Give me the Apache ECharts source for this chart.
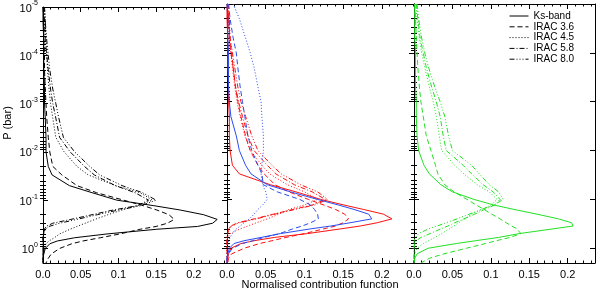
<!DOCTYPE html>
<html><head><meta charset="utf-8">
<script src="https://cdn.jsdelivr.net/npm/echarts@6/dist/echarts.min.js"></script>
<style>html,body{margin:0;padding:0;background:#fff}#c{width:600px;height:291px}</style>
</head><body><div id="c"></div>
<script>
// Pressure levels (bar)
const pressure = [1e-5,2e-5,5e-5,1e-4,2e-4,5e-4,1e-3,2e-3,5e-3,1e-2,2e-2,3e-2,5e-2,7e-2,0.1,0.13,0.16,0.2,0.25,0.3,0.35,0.4,0.5,0.6,0.7,0.8,1.0,1.3,1.6,2.0];
const bandNames = ['Ks-band','IRAC 3.6','IRAC 4.5','IRAC 5.8','IRAC 8.0'];
const xTicks = [0, 0.05, 0.1, 0.15, 0.2];
const yTickExponents = [-5,-4,-3,-2,-1,0];
const minorMultipliers = [2,3,4,5,6,7,8,9];

// Panel 1 (black)
const blackKs = [0.000,0.000,0.001,0.001,0.001,0.002,0.002,0.003,0.004,0.004,0.007,0.012,0.035,0.065,0.098,0.147,0.182,0.213,0.231,0.225,0.205,0.151,0.085,0.042,0.019,0.009,0.003,0.001,0.000,0.000];
const black36 = [0.000,0.001,0.001,0.002,0.002,0.003,0.004,0.005,0.007,0.009,0.013,0.025,0.045,0.071,0.107,0.133,0.151,0.167,0.174,0.165,0.150,0.129,0.102,0.076,0.053,0.038,0.022,0.011,0.007,0.004];
const black45 = [0.002,0.003,0.004,0.005,0.006,0.008,0.010,0.013,0.017,0.028,0.045,0.060,0.096,0.129,0.145,0.125,0.105,0.086,0.069,0.056,0.045,0.036,0.022,0.015,0.008,0.004,0.002,0.001,0.000,0.000];
const black58 = [0.001,0.002,0.003,0.005,0.007,0.010,0.013,0.017,0.022,0.036,0.055,0.068,0.096,0.122,0.140,0.125,0.093,0.065,0.037,0.013,0.004,0.002,0.001,0.000,0.000,0.000,0.000,0.000,0.000,0.000];
const black80 = [0.002,0.003,0.005,0.007,0.009,0.013,0.017,0.021,0.027,0.042,0.062,0.075,0.105,0.132,0.150,0.130,0.100,0.072,0.045,0.022,0.008,0.003,0.001,0.000,0.000,0.000,0.000,0.000,0.000,0.000];

// Panel 2 (red and blue)
const redKs = [0.000,0.000,0.001,0.001,0.001,0.002,0.002,0.003,0.003,0.004,0.007,0.016,0.056,0.089,0.121,0.151,0.176,0.202,0.213,0.194,0.172,0.147,0.104,0.061,0.035,0.018,0.005,0.002,0.001,0.000];
const red36 = [0.001,0.002,0.004,0.006,0.008,0.011,0.014,0.018,0.024,0.030,0.040,0.048,0.062,0.080,0.105,0.125,0.140,0.152,0.157,0.150,0.140,0.125,0.100,0.076,0.058,0.042,0.022,0.006,0.002,0.001];
const red45 = [0.001,0.002,0.003,0.005,0.007,0.010,0.013,0.017,0.023,0.030,0.045,0.055,0.078,0.100,0.117,0.100,0.080,0.067,0.052,0.038,0.027,0.017,0.004,0.001,0.000,0.000,0.000,0.000,0.000,0.000];
const red58 = [0.001,0.002,0.003,0.005,0.008,0.011,0.015,0.020,0.027,0.035,0.052,0.063,0.087,0.110,0.127,0.110,0.085,0.060,0.035,0.014,0.005,0.002,0.001,0.000,0.000,0.000,0.000,0.000,0.000,0.000];
const red80 = [0.002,0.003,0.004,0.007,0.010,0.014,0.018,0.024,0.032,0.040,0.058,0.070,0.095,0.117,0.130,0.113,0.088,0.062,0.038,0.016,0.006,0.002,0.001,0.000,0.000,0.000,0.000,0.000,0.000,0.000];
const blueKs = [0.000,0.001,0.001,0.002,0.002,0.002,0.003,0.005,0.012,0.016,0.024,0.031,0.052,0.082,0.117,0.144,0.164,0.183,0.187,0.159,0.134,0.108,0.069,0.044,0.022,0.009,0.003,0.001,0.000,0.000];
const blue36 = [0.002,0.004,0.008,0.012,0.014,0.017,0.020,0.023,0.027,0.032,0.040,0.045,0.047,0.065,0.094,0.108,0.113,0.117,0.118,0.108,0.097,0.085,0.068,0.048,0.033,0.020,0.007,0.002,0.000,0.000];
const blue45 = [0.008,0.016,0.024,0.030,0.035,0.040,0.044,0.045,0.047,0.047,0.045,0.044,0.046,0.050,0.052,0.046,0.040,0.035,0.029,0.022,0.017,0.012,0.007,0.004,0.002,0.001,0.001,0.000,0.000,0.000];

// Panel 3 (green)
const greenKs = [0.001,0.001,0.001,0.002,0.002,0.002,0.003,0.003,0.004,0.006,0.013,0.020,0.035,0.050,0.078,0.104,0.130,0.160,0.188,0.205,0.207,0.181,0.137,0.110,0.080,0.055,0.018,0.004,0.001,0.000];
const green36 = [0.001,0.002,0.003,0.004,0.005,0.007,0.009,0.012,0.016,0.022,0.028,0.031,0.040,0.052,0.069,0.081,0.091,0.101,0.112,0.120,0.127,0.134,0.139,0.125,0.107,0.093,0.068,0.039,0.020,0.009];
const green45 = [0.002,0.004,0.007,0.010,0.014,0.020,0.025,0.029,0.033,0.036,0.053,0.065,0.082,0.098,0.108,0.100,0.088,0.075,0.066,0.058,0.052,0.046,0.036,0.027,0.019,0.012,0.004,0.001,0.000,0.000];
const green58 = [0.003,0.005,0.008,0.012,0.016,0.023,0.029,0.034,0.038,0.042,0.064,0.075,0.090,0.103,0.112,0.105,0.092,0.079,0.065,0.053,0.044,0.035,0.021,0.009,0.003,0.001,0.000,0.000,0.000,0.000];
const green80 = [0.004,0.006,0.010,0.014,0.019,0.027,0.034,0.040,0.045,0.050,0.075,0.085,0.098,0.110,0.116,0.104,0.088,0.072,0.056,0.042,0.030,0.019,0.006,0.002,0.000,0.000,0.000,0.000,0.000,0.000];

const FONT = 'Liberation Sans, Arial, Helvetica, sans-serif';
const dashStyles = ['solid', [5,3], [1,2], [5,2,1,2], [5,2,1,2,1,2,1,2]];
const panels = [
  {left:43, width:184, xmax:0.244},
  {left:227, width:187, xmax:0.2415},
  {left:414, width:181, xmax:0.2355}
];
const curves = [
  {panel:0, color:'#000000', sets:[blackKs,black36,black45,black58,black80], named:true},
  {panel:1, color:'#ff1010', sets:[redKs,red36,red45,red58,red80]},
  {panel:1, color:'#2a4cf0', sets:[blueKs,blue36,blue45]},
  {panel:2, color:'#22e022', sets:[greenKs,green36,green45,green58,green80]}
];

const majorValues = yTickExponents.map(e => Math.pow(10, e));
const minorValues = [];
yTickExponents.forEach(e => minorMultipliers.forEach(m => {
  const v = m * Math.pow(10, e);
  if (v < 2) minorValues.push(v);
}));

const grid = [], xAxis = [], yAxis = [], series = [];
const isTick = v => xTicks.some(t => Math.abs(t - v) < 1e-9);
panels.forEach((p, i) => {
  grid.push({left:p.left, width:p.width, top:4, height:259, containLabel:false});
  ['bottom','top'].forEach(pos => {
    xAxis.push({
      type:'value', gridIndex:i, position:pos, min:0, max:p.xmax, interval:0.05,
      axisLine:{show:true, onZero:false, lineStyle:{color:'#000', width:1}},
      axisTick:{show:true, inside:true, length:5, lineStyle:{color:'#000'}},
      minorTick:{show:true, splitNumber:5, length:2.5, lineStyle:{color:'#000'}},
      splitLine:{show:false},
      axisLabel:{show:pos==='bottom', showMaxLabel:false, margin:6, color:'#000', fontSize:11, fontFamily:FONT,
        formatter:v => isTick(v) ? (v === 0 ? '0.0' : String(+v.toFixed(2))) : ''}
    });
  });
  ['left','right'].forEach(pos => {
    // major ticks + labels
    yAxis.push({
      type:'log', logBase:10, gridIndex:i, position:pos, min:1e-5, max:2, inverse:true,
      axisLine:{show:true, onZero:false, lineStyle:{color:'#000', width:1}},
      axisTick:{show:true, inside:true, length:5, customValues:majorValues, lineStyle:{color:'#000'}},
      minorTick:{show:false},
      splitLine:{show:false},
      axisLabel:{show:(i===0 && pos==='left'), margin:5, color:'#000', fontFamily:FONT,
        customValues:majorValues,
        formatter:v => {
          const e = Math.round(Math.log10(v));
          return '{b|10}{s|' + e + '}';
        },
        rich:{
          b:{fontSize:11, fontFamily:FONT, color:'#000', verticalAlign:'bottom', lineHeight:14},
          s:{fontSize:7, fontFamily:FONT, color:'#000', verticalAlign:'top', lineHeight:14, padding:[0,0,6,0]}
        }
      }
    });
    // minor ticks
    yAxis.push({
      type:'log', logBase:10, gridIndex:i, position:pos, min:1e-5, max:2, inverse:true,
      axisLine:{show:false},
      axisTick:{show:true, inside:true, length:3, customValues:minorValues, lineStyle:{color:'#000'}},
      minorTick:{show:false}, splitLine:{show:false}, axisLabel:{show:false}
    });
  });
});

curves.forEach(c => {
  c.sets.forEach((vals, k) => {
    series.push({
      type:'line',
      name: c.named ? bandNames[k] : bandNames[k] + ' ' + c.color,
      xAxisIndex: 2*c.panel, yAxisIndex: 4*c.panel,
      data: pressure.map((pr, j) => [vals[j], pr]),
      symbol:'none', showSymbol:false, smooth:false, silent:true,
      lineStyle:{color:c.color, width:1, type:dashStyles[k]},
      itemStyle:{color:c.color},
      emphasis:{disabled:true}
    });
  });
});

const chart = echarts.init(document.getElementById('c'), null, {renderer:'canvas'});
chart.setOption({
  animation:false,
  backgroundColor:'#fff',
  grid, xAxis, yAxis, series,
  legend:{
    data: bandNames, orient:'vertical', left:509, top:11, itemWidth:19, itemHeight:8, itemGap:0.8,
    padding:0, selectedMode:false,
    itemStyle:{opacity:0},
    lineStyle:{width:1},
    textStyle:{fontSize:10, color:'#000', fontFamily:FONT}
  },
  graphic:[
    {type:'text', x:8, y:123, rotation:Math.PI/2,
      style:{text:'P (bar)', fontSize:11, fontFamily:FONT, fill:'#000', align:'center', verticalAlign:'middle'}},
    {type:'text', x:320, y:285,
      style:{text:'Normalised contribution function', fontSize:11, fontFamily:FONT, fill:'#000', align:'center', verticalAlign:'middle'}}
  ]
});
</script></body></html>
